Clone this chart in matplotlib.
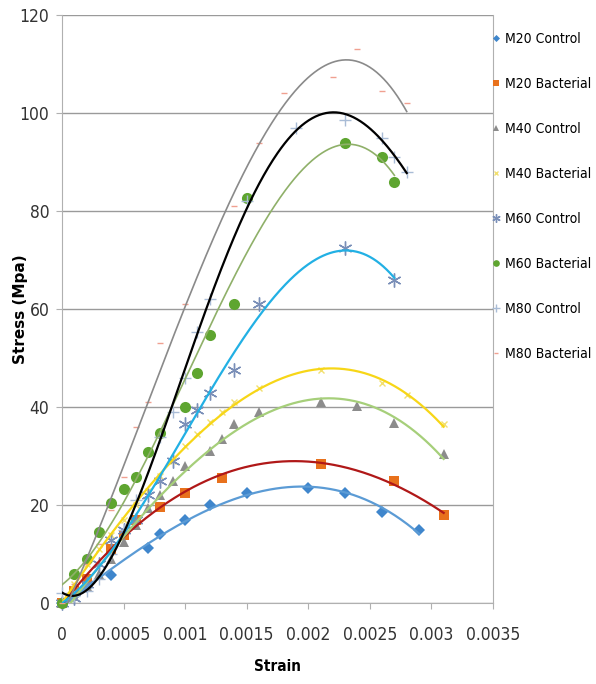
import numpy as np
import matplotlib
matplotlib.use("Agg")
import matplotlib.pyplot as plt
from matplotlib.lines import Line2D

plt.rcParams['font.family'] = ['DejaVu Sans']
plt.rcParams['font.stretch'] = 'condensed'

# strain / stress readings for each mix
m20c_x = [0, 0.0001, 0.0002, 0.0004, 0.0007, 0.0008, 0.001, 0.0012, 0.0015, 0.002, 0.0023, 0.0026, 0.0029]
m20c_y = [0, 1.5, 3.3, 5.8, 11.2, 14.2, 17, 20, 22.6, 23.6, 22.4, 18.6, 14.9]

m20b_x = [0, 0.0001, 0.0002, 0.0004, 0.0005, 0.0006, 0.0008, 0.001, 0.0013, 0.0021, 0.0027, 0.0031]
m20b_y = [0, 2.5, 5, 11, 14, 17, 19.6, 22.5, 25.5, 28.5, 25, 18]

m40c_x = [0, 0.0001, 0.0002, 0.0003, 0.0004, 0.0005, 0.0006, 0.0007, 0.0008, 0.0009, 0.001,
          0.0012, 0.0013, 0.0014, 0.0016, 0.0021, 0.0024, 0.0027, 0.0031]
m40c_y = [0, 1.5, 3.5, 6, 9, 12.5, 16, 19.5, 22, 25, 28, 31, 33.5, 36.5, 39, 41, 40.3, 36.8, 30.5]

m40b_x = [0, 0.0001, 0.0002, 0.0003, 0.0004, 0.0005, 0.0006, 0.0007, 0.0008, 0.0009, 0.001,
          0.0011, 0.0012, 0.0013, 0.0014, 0.0016, 0.0021, 0.0026, 0.0028, 0.0031]
m40b_y = [0, 4, 8, 11, 14, 17, 20, 23, 26, 29, 32, 34.5, 37, 39, 41, 44, 47.5, 45, 42.5, 36.5]

m60c_x = [0, 0.0001, 0.0002, 0.0003, 0.0004, 0.0005, 0.0006, 0.0007, 0.0008, 0.0009, 0.001,
          0.0011, 0.0012, 0.0014, 0.0016, 0.0023, 0.0027]
m60c_y = [0, 1, 4, 8, 13, 15, 17, 22, 25, 29, 36.5, 39.5, 43, 47.5, 61, 72.5, 66]

m60b_x = [0, 0.0001, 0.0002, 0.0003, 0.0004, 0.0005, 0.0006, 0.0007, 0.0008, 0.001, 0.0011,
          0.0012, 0.0014, 0.0015, 0.0023, 0.0026, 0.0027]
m60b_y = [0, 6, 9, 14.5, 20.4, 23.4, 25.8, 30.8, 34.7, 40, 47, 54.7, 61, 82.7, 94, 91, 86]

m80c_x = [0, 0.0001, 0.0002, 0.0003, 0.0004, 0.0005, 0.0006, 0.0008, 0.0009, 0.001, 0.0011,
          0.0012, 0.0015, 0.0019, 0.0023, 0.0026, 0.0027, 0.0028]
m80c_y = [2, 1.5, 2.5, 5, 10, 15, 21, 34, 39, 46, 55.3, 62, 82, 97, 98.5, 95, 91, 88]

m80b_x = [0, 0.0001, 0.0002, 0.0003, 0.0004, 0.0005, 0.0006, 0.0007, 0.0008, 0.001, 0.0014,
          0.0016, 0.0018, 0.0022, 0.0024, 0.0026, 0.0028]
m80b_y = [0, 4, 8, 12, 19, 25.7, 36, 41, 53, 61, 81, 94, 104, 107.3, 113, 104.5, 102]

labels = ['M20 Control', 'M20 Bacterial', 'M40 Control', 'M40 Bacterial',
          'M60 Control', 'M60 Bacterial', 'M80 Control', 'M80 Bacterial']

# (data x, data y, marker, marker size, marker colour, trend colour, trend width, degree)
series = [
    (m20c_x, m20c_y, 'D', 6, '#3f86cc', '#5b9bd5', 1.6, 3),
    (m20b_x, m20b_y, 's', 7, '#e8711c', '#b01818', 1.6, 3),
    (m40c_x, m40c_y, '^', 7, '#8c8c8c', '#a6cf7a', 1.6, 3),
    (m40b_x, m40b_y, 'x', 4, '#f2e070', '#f7d617', 1.6, 3),
    (m60c_x, m60c_y, (6, 2, 0), 10, '#7a8fb8', '#22b0e4', 1.6, 3),
    (m60b_x, m60b_y, 'o', 8, '#5ea530', '#8fb069', 1.2, 3),
    (m80c_x, m80c_y, '+', 9, '#a9bcd6', '#000000', 1.6, 4),
    (m80b_x, m80b_y, '_', 5, '#f0a090', '#8a8a8a', 1.2, 3),
]
thin = ('x', '+', '_', (6, 2, 0))

fig = plt.figure(figsize=(5.96, 6.84), dpi=100)
ax = fig.add_axes([0.104, 0.118, 0.723, 0.860])

handles = []
for (xs, ys, mk, ms, mc, lc, lw, deg), lab in zip(series, labels):
    xs = np.array(xs)
    ys = np.array(ys)
    ax.plot(xs, ys, linestyle='none', marker=mk, markersize=ms, color=mc,
            markeredgewidth=1.0 if mk in thin else 0, zorder=3, clip_on=False)
    coef = np.polyfit(xs, ys, deg)
    xx = np.linspace(xs[0], xs[-1], 300)
    ax.plot(xx, np.polyval(coef, xx), color=lc, linewidth=lw, zorder=4)
    handles.append(Line2D([], [], linestyle='none', marker=mk, markersize=ms * 0.6, color=mc,
                          markeredgewidth=1.0 if mk in thin else 0, label=lab))

ax.set_xlim(0, 0.0035)
ax.set_ylim(0, 120)
ax.set_xticks(np.arange(0, 0.0036, 0.0005))
ax.set_xticklabels(['0', '0.0005', '0.001', '0.0015', '0.002', '0.0025', '0.003', '0.0035'])
ax.set_yticks(range(0, 121, 20))
ax.grid(axis='y', color='#9a9a9a', linewidth=1.0)
ax.set_axisbelow(True)
for s in ['left', 'bottom', 'right']:
    ax.spines[s].set_color('#b0b0b0')
ax.spines['top'].set_visible(False)
ax.tick_params(axis='both', colors='#b0b0b0', labelcolor='#333333', labelsize=12.5, length=4)
ax.tick_params(axis='x', pad=12)
ax.tick_params(axis='y', pad=5)

ax.set_xlabel('Strain', fontsize=11, fontweight='bold', labelpad=11)
ax.set_ylabel('Stress (Mpa)', fontsize=11, fontweight='bold', fontstretch='normal')
ax.yaxis.set_label_coords(-0.079, 0.5)

leg = ax.legend(handles=handles, loc='upper left', bbox_to_anchor=(0.826, 0.953),
                bbox_transform=fig.transFigure, frameon=False, fontsize=10,
                labelspacing=2.23, handlelength=0.6, handletextpad=0.3, borderpad=0,
                borderaxespad=0)

fig.savefig('out.png', dpi=100)
